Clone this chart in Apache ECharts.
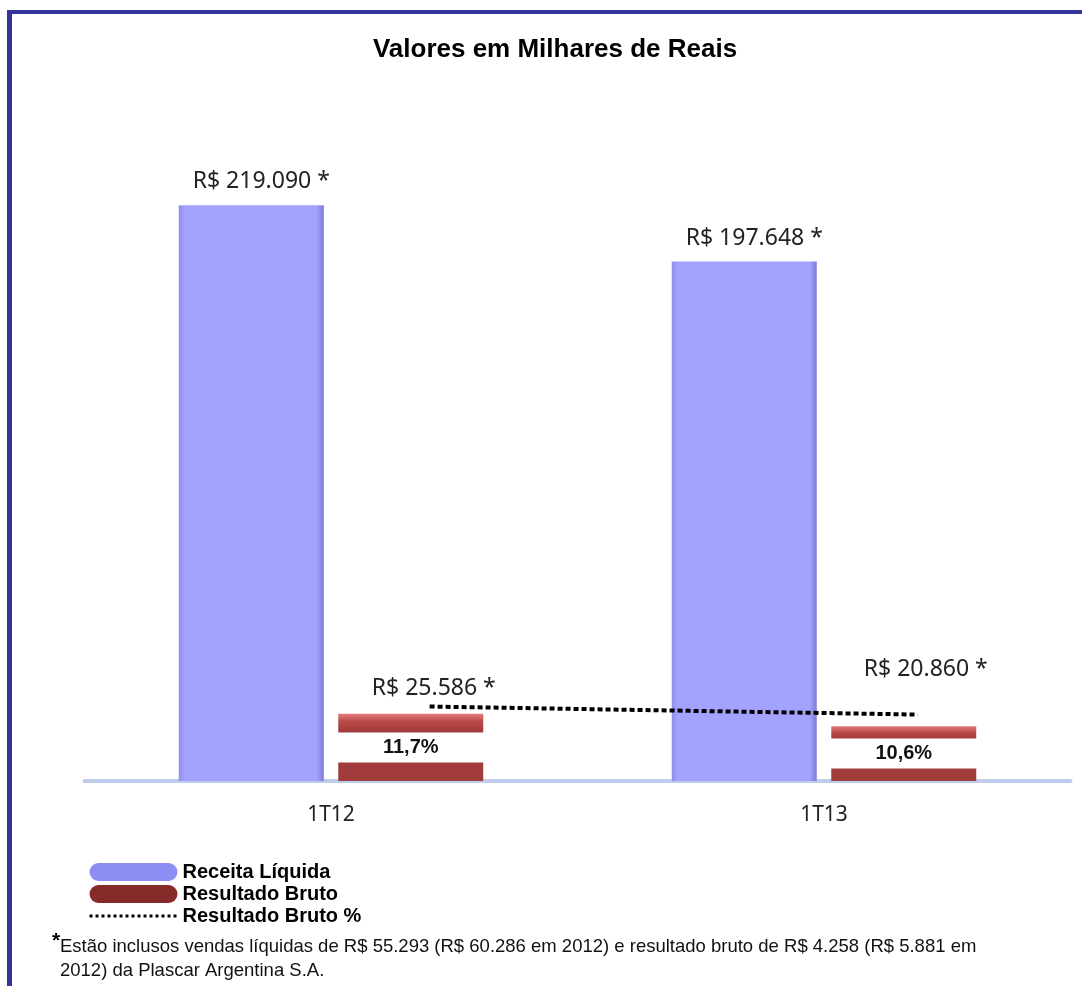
<!DOCTYPE html>
<html>
<head>
<meta charset="utf-8">
<script src="https://cdn.jsdelivr.net/npm/echarts@6/dist/echarts.min.js"></script>
<style>
  body { margin: 0; background: #fff; }
  #main { width: 1082px; height: 986px; }
</style>
</head>
<body>
<div id="main"></div>
<script>
var categories = ['1T12', '1T13'];
var receita = [219090, 197648];
var bruto = [25586, 20860];
var brutoPct = [11.7, 10.6];
var receitaLabels = ['R$ 219.090 *', 'R$ 197.648 *'];
var brutoLabels = ['R$ 25.586 *', 'R$ 20.860 *'];
var pctLabels = ['11,7%', '10,6%'];
var pctX = [0.2, 1.19];
var brutoLabelOffset = [[23, 0], [22, -31]];

var myChart = echarts.init(document.getElementById('main'));

var blueColor = new echarts.graphic.LinearGradient(0, 0, 1, 0, [
    {offset: 0, color: '#8f8fe8'},
    {offset: 0.04, color: '#a3a3ff'},
    {offset: 0.95, color: '#a3a3ff'},
    {offset: 1, color: '#7c7cd0'}
]);
var redColor = new echarts.graphic.LinearGradient(0, 0, 0, 1, [
    {offset: 0, color: '#e77a7a'},
    {offset: 0.12, color: '#b84848'},
    {offset: 0.25, color: '#a23c3c'},
    {offset: 1, color: '#a23c3c'}
]);

var pctData = [];
for (var i = 0; i < brutoPct.length; i++) {
    pctData.push([pctX[i], brutoPct[i]]);
}
var helperData = [];
for (var j = 0; j < bruto.length; j++) {
    helperData.push({value: 0, label: {offset: brutoLabelOffset[j]}});
}

var capsule = 'path://M9,0 H79 A9,9 0 0 1 79,18 H9 A9,9 0 0 1 9,0 Z';

var option = {
    animation: false,
    title: {
        text: 'Valores em Milhares de Reais',
        left: 550,
        textAlign: 'center',
        top: 32,
        textStyle: {fontFamily: 'Liberation Sans', fontSize: 26, fontWeight: 'bold', color: '#000'}
    },
    legend: {
        orient: 'vertical',
        left: 88,
        top: 862,
        itemWidth: 88,
        itemHeight: 18,
        itemGap: 2,
        padding: 0,
        textStyle: {fontFamily: 'Liberation Sans', fontSize: 20, fontWeight: 'bold', color: '#000'},
        data: [
            {name: 'Receita Líquida', icon: capsule, itemStyle: {color: '#8d8ef2'}},
            {name: 'Resultado Bruto', icon: capsule, itemStyle: {color: '#862a2a'}},
            {name: 'Resultado Bruto %', itemStyle: {opacity: 0}, lineStyle: {type: [3, 3], width: 3, color: '#000'}}
        ]
    },
    grid: {left: 84.5, right: 11.5, top: 124, bottom: 205},
    xAxis: [
        {
            type: 'category',
            data: categories,
            axisTick: {show: false},
            axisLine: {lineStyle: {color: '#bfcdeb', width: 4}},
            axisLabel: {margin: 24, fontFamily: 'Noto Sans', fontSize: 21, color: '#222'}
        },
        {type: 'value', min: -0.5, max: 1.5, show: false}
    ],
    yAxis: [
        {type: 'value', min: 0, max: 250000, show: false},
        {type: 'value', min: 1.5, max: 91.5, show: false}
    ],
    graphic: [
        {type: 'rect', shape: {x: 7, y: 10, width: 1075, height: 4}, style: {fill: '#333399'}},
        {type: 'rect', shape: {x: 7, y: 10, width: 5, height: 976}, style: {fill: '#333399'}},
        {
            type: 'text', left: 52, top: 931,
            style: {text: '*', fontFamily: 'Liberation Sans', fontSize: 21, fontWeight: 'bold', fill: '#000'}
        },
        {
            type: 'text', left: 60, top: 935,
            style: {
                text: 'Estão inclusos vendas líquidas de R$ 55.293 (R$ 60.286 em 2012) e resultado bruto de R$ 4.258 (R$ 5.881 em\n2012) da Plascar Argentina S.A.',
                fontFamily: 'Liberation Sans', fontSize: 18.5, lineHeight: 24, fill: '#111'
            }
        }
    ],
    series: [
        {
            name: 'Receita Líquida',
            type: 'bar',
            barWidth: 145,
            barGap: '10%',
            data: receita,
            itemStyle: {color: blueColor},
            label: {
                show: true,
                position: 'top',
                distance: 12,
                offset: [10, 0],
                fontFamily: 'Noto Sans',
                fontSize: 23,
                color: '#222',
                formatter: function (p) { return receitaLabels[p.dataIndex]; }
            }
        },
        {
            name: 'Resultado Bruto',
            type: 'bar',
            stack: 'bruto',
            barWidth: 145,
            barGap: '10%',
            data: bruto,
            itemStyle: {color: redColor},
            label: {
                show: true,
                position: 'inside',
                offset: [0, 0],
                backgroundColor: '#fff',
                width: 165,
                height: 30,
                lineHeight: 30,
                align: 'center',
                fontFamily: 'Liberation Sans',
                fontSize: 20,
                fontWeight: 'bold',
                color: '#111',
                formatter: function (p) { return pctLabels[p.dataIndex]; }
            }
        },
        {
            type: 'bar',
            stack: 'bruto',
            barWidth: 145,
            barGap: '10%',
            data: helperData,
            itemStyle: {color: 'rgba(0,0,0,0)'},
            label: {
                show: true,
                position: 'top',
                distance: 14,
                fontFamily: 'Noto Sans',
                fontSize: 23,
                color: '#222',
                formatter: function (p) { return brutoLabels[p.dataIndex]; }
            },
            tooltip: {show: false}
        },
        {
            name: 'Resultado Bruto %',
            type: 'line',
            xAxisIndex: 1,
            yAxisIndex: 1,
            data: pctData,
            symbol: 'none',
            lineStyle: {color: '#000', width: 4, type: [5, 3]},
            itemStyle: {color: '#000'},
            z: 5
        }
    ]
};
myChart.setOption(option);
</script>
</body>
</html>
